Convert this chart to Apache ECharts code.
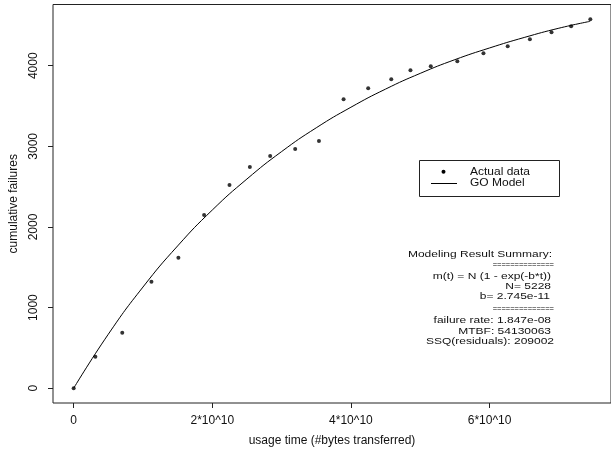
<!DOCTYPE html>
<html>
<head>
<meta charset="utf-8">
<script src="https://cdn.jsdelivr.net/npm/echarts@6/dist/echarts.min.js"></script>
<style>
    html, body { margin: 0; padding: 0; background: #fff; }
    #main { width: 611px; height: 452px; }
</style>
</head>
<body>
<div id="main"></div>
<script>
// usage time in units of 10^10 bytes
var usageX = [0, 0.313, 0.701, 1.122, 1.511, 1.882, 2.248, 2.542, 2.835, 3.196, 3.539, 3.894,
    4.249, 4.582, 4.859, 5.152, 5.535, 5.912, 6.262, 6.582, 6.894, 7.177, 7.454];
var failures = [0, 392, 689, 1320, 1617, 2149, 2521, 2743, 2880, 2966, 3065, 3585,
    3721, 3833, 3944, 3994, 4056, 4155, 4241, 4328, 4415, 4489, 4576];

// GO model curve
var modelX = [0, 0.5, 1, 1.5, 2, 2.5, 3, 3.5, 4, 4.5, 5, 5.5, 6, 6.5, 7, 7.45];
var modelY = [0, 670, 1255, 1765, 2210, 2595, 2935, 3230, 3485, 3710, 3905, 4075, 4220, 4350, 4465, 4550];

var xTickVals = [0, 2, 4, 6];
var xTickLabels = ['0', '2*10^10', '4*10^10', '6*10^10'];
var yTickVals = [0, 1000, 2000, 3000, 4000];

var summaryLines = [
    'Modeling Result Summary:',
    '==============',
    'm(t) = N (1 - exp(-b*t))',
    'N= 5228',
    'b= 2.745e-11',
    '==============',
    'failure rate: 1.847e-08',
    'MTBF: 54130063',
    'SSQ(residuals): 209002'
];

var FONT = '"Liberation Sans", Arial, Helvetica, sans-serif';
var INK = '#111';

function pairs(xs, ys) {
    var out = [];
    for (var i = 0; i < xs.length; i++) {
        out.push([xs[i], ys[i]]);
    }
    return out;
}

var myChart = echarts.init(document.getElementById('main'));

// summary block, right aligned (text a bit squashed like the original)
var summaryY = [254.3, 265.4, 276.3, 286, 296, 308.6, 320, 331, 341.7];
var summaryRight = [552, 554, 551, 551, 550, 554, 551, 551, 554];
var graphics = [];
summaryLines.forEach(function (txt, i) {
    var eq = txt.charAt(0) == '=';
    graphics.push({
        type: 'text',
        x: summaryRight[i],
        y: summaryY[i],
        scaleY: eq ? 1 : 0.82,
        style: {
            text: txt,
            align: 'right',
            verticalAlign: 'middle',
            fill: eq ? '#000' : INK,
            font: (eq ? '7.5px ' : '12px ') + FONT
        }
    });
});

// legend box
graphics.push(
    {
        type: 'rect',
        shape: { x: 419.5, y: 160.5, width: 140, height: 36 },
        style: { fill: '#fff', stroke: '#222', lineWidth: 1 }
    },
    {
        type: 'circle',
        shape: { cx: 443.5, cy: 171.7, r: 2 },
        style: { fill: '#000' }
    },
    {
        type: 'line',
        shape: { x1: 431, y1: 183.5, x2: 457, y2: 183.5 },
        style: { stroke: '#000', lineWidth: 1 }
    },
    {
        type: 'text', x: 470, y: 171.7, scaleY: 0.85,
        style: { text: 'Actual data', verticalAlign: 'middle', fill: INK, font: '12px ' + FONT }
    },
    {
        type: 'text', x: 470, y: 183.5, scaleY: 0.85,
        style: { text: 'GO Model', verticalAlign: 'middle', fill: INK, font: '12px ' + FONT }
    }
);

var option = {
    animation: false,
    backgroundColor: '#fff',
    grid: {
        left: 51.4,
        top: 4.5,
        width: 566,
        height: 399.3,
        show: true,
        borderColor: '#222',
        borderWidth: 1,
        backgroundColor: 'transparent'
    },
    xAxis: {
        type: 'value',
        min: -0.298,
        max: 7.752,
        name: 'usage time (#bytes transferred)',
        nameLocation: 'middle',
        nameGap: 32,
        nameTextStyle: { fontFamily: FONT, fontSize: 12, color: INK },
        axisLine: { show: false, onZero: false },
        axisTick: {
            show: true,
            length: 5,
            customValues: xTickVals,
            lineStyle: { color: '#222' }
        },
        axisLabel: {
            customValues: xTickVals,
            margin: 12,
            fontFamily: FONT,
            fontSize: 12,
            color: INK,
            formatter: function (v) {
                var i = xTickVals.indexOf(v);
                return i >= 0 ? xTickLabels[i] : '';
            }
        },
        splitLine: { show: false }
    },
    yAxis: {
        type: 'value',
        min: -183,
        max: 4759,
        name: 'cumulative failures',
        nameLocation: 'middle',
        nameGap: 33,
        nameTextStyle: { fontFamily: FONT, fontSize: 12, color: INK },
        axisLine: { show: false, onZero: false },
        axisTick: {
            show: true,
            length: 5,
            customValues: yTickVals,
            lineStyle: { color: '#222' }
        },
        axisLabel: {
            customValues: yTickVals,
            rotate: 90,
            margin: 13,
            fontFamily: FONT,
            fontSize: 12,
            color: INK,
            formatter: function (v) {
                return String(v);
            }
        },
        splitLine: { show: false }
    },
    series: [
        {
            name: 'Actual data',
            type: 'scatter',
            data: pairs(usageX, failures),
            symbol: 'circle',
            symbolSize: 4,
            itemStyle: { color: '#000' }
        },
        {
            name: 'GO Model',
            type: 'line',
            data: pairs(modelX, modelY),
            showSymbol: false,
            smooth: true,
            lineStyle: { color: '#000', width: 1 }
        }
    ],
    graphic: graphics
};
myChart.setOption(option);
</script>
</body>
</html>
